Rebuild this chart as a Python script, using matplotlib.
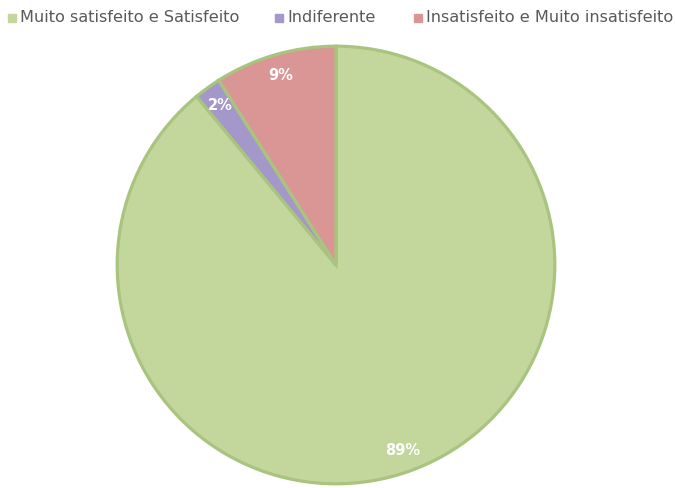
import matplotlib
matplotlib.use("Agg")
import matplotlib.pyplot as plt
from matplotlib.patches import Rectangle

categories = ["Muito satisfeito e Satisfeito", "Indiferente", "Insatisfeito e Muito insatisfeito"]
values = [89, 2, 9]
colors = ["#c3d69b", "#a497c9", "#d99694"]

W, H = 675, 488
fig = plt.figure(figsize=(W / 100, H / 100), dpi=100)
cx, cy, r = 336, 265, 221
ax = fig.add_axes([(cx - r) / W, (H - cy - r) / H, 2 * r / W, 2 * r / H])
wedges, texts, autotexts = ax.pie(
    values, colors=colors, startangle=90, counterclock=False,
    autopct=lambda p: f"{p:.0f}%", pctdistance=0.9, radius=1,
    wedgeprops=dict(linewidth=2.3, edgecolor="#a9c47f"),
    textprops=dict(color="white", fontsize=10.5, fontweight="bold"))
ax.set_xlim(-1.01, 1.01)
ax.set_ylim(-1.01, 1.01)
ax.set_aspect("equal")
ax.axis("off")

# legend: square + text per item
sq_x = [8, 275, 414]
ty = 18
sq = 8
for x0, c, lab in zip(sq_x, colors, categories):
    fig.patches.append(Rectangle((x0 / W, (H - ty - sq / 2) / H), sq / W, sq / H,
                                 transform=fig.transFigure, facecolor=c, edgecolor=c))
    fig.text((x0 + sq + 4) / W, (H - ty) / H, lab, ha="left", va="center",
             fontsize=11.6, color="#595959")

fig.savefig("out.png", dpi=100)
